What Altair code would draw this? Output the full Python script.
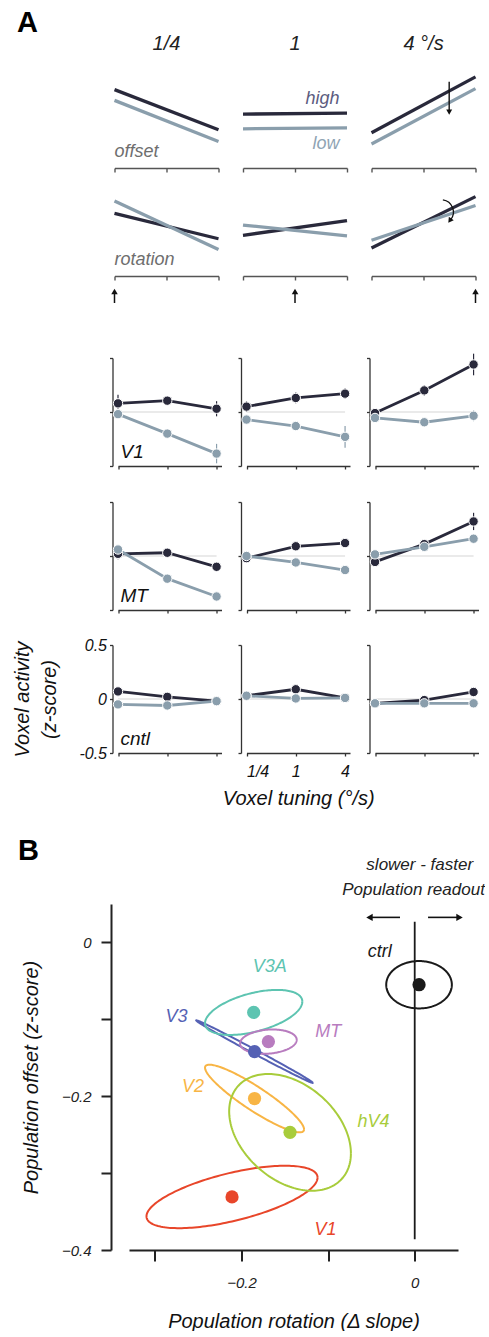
import altair as alt
import numpy as np
import pandas as pd

FONT = "Liberation Sans"
DARK = "#29293b"
LIGHT = "#8a9eac"
AXC = "#333333"
SAXC = "#555555"

# ---------------- data ----------------
speed_titles = ["1/4", "1", "4 °/s"]
tuning_labels = ["1/4", "1", "4"]
tuning_pos = [0, 1, 2]
levels = ["high", "low"]

# schematic model responses: [left end, right end] per column
offset_high = [[0.80, 0.39], [0.55, 0.56], [0.36, 0.93]]
offset_low = [[0.69, 0.27], [0.40, 0.41], [0.245, 0.81]]
rotation_high = [[0.64, 0.38], [0.415, 0.565], [0.285, 0.81]]
rotation_low = [[0.765, 0.27], [0.52, 0.41], [0.365, 0.72]]
stim_pos = [0, 1, 2]

# measured voxel activity (z-score)
areas = ["V1", "MT", "cntl"]
act_high = {
    "V1": [[0.08, 0.105, 0.03], [0.05, 0.13, 0.17], [-0.01, 0.20, 0.44]],
    "MT": [[0.02, 0.03, -0.10], [-0.02, 0.09, 0.12], [-0.055, 0.11, 0.32]],
    "cntl": [[0.07, 0.02, -0.02], [0.03, 0.09, 0.01], [-0.04, -0.01, 0.065]],
}
act_low = {
    "V1": [[-0.02, -0.20, -0.385], [-0.07, -0.13, -0.23], [-0.055, -0.095, -0.035]],
    "MT": [[0.06, -0.21, -0.375], [0.0, -0.06, -0.13], [0.015, 0.085, 0.16]],
    "cntl": [[-0.05, -0.06, -0.02], [0.03, 0.005, 0.01], [-0.04, -0.04, -0.04]],
}
err_high = {
    "V1": [[0.08, 0.03, 0.07], [0.05, 0.05, 0.05], [0.03, 0.05, 0.10]],
    "MT": [[0.05, 0.03, 0.03], [0.03, 0.03, 0.03], [0.03, 0.03, 0.08]],
    "cntl": [[0.02, 0.02, 0.02], [0.02, 0.02, 0.02], [0.02, 0.02, 0.02]],
}
err_low = {
    "V1": [[0.03, 0.03, 0.09], [0.03, 0.03, 0.10], [0.03, 0.03, 0.05]],
    "MT": [[0.04, 0.03, 0.03], [0.03, 0.03, 0.03], [0.03, 0.03, 0.03]],
    "cntl": [[0.02, 0.02, 0.02], [0.02, 0.02, 0.02], [0.02, 0.02, 0.02]],
}
act_ticks = [-0.5, 0, 0.5]
act_tick_labels = ["-0.5", "0", "0.5"]

# population readout (panel B)
pop_regions = ["V1", "V2", "V3", "V3A", "hV4", "MT", "ctrl"]
pop_rotation = [-0.211, -0.185, -0.185, -0.186, -0.144, -0.169, 0.005]
pop_offset = [-0.331, -0.203, -0.142, -0.091, -0.247, -0.129, -0.055]
sd_rotation = [0.0988, 0.0572, 0.0674, 0.0562, 0.0703, 0.0327, 0.0379]
sd_offset = [0.0406, 0.0440, 0.0407, 0.0293, 0.0759, 0.0158, 0.0308]
corr = [0.62, -0.91, -0.997, 0.48, -0.36, 0.15, 0.0]
pop_colors = ["#e8462a", "#f8b545", "#5561b4", "#5dc4b1", "#a8cc3b", "#b87cbf", "#1a1a1a"]
label_rot = [-0.103, -0.256, -0.275, -0.1675, -0.0476, -0.100, -0.0404]
label_off = [-0.374, -0.188, -0.0974, -0.0317, -0.2336, -0.116, -0.0121]
B_xticks = [-0.3, -0.2, -0.1, 0]
B_xlabels = ["", "\u22120.2", "", "0"]
B_yticks = [0, -0.1, -0.2, -0.3, -0.4]
B_ylabels = ["0", "", "\u22120.2", "", "\u22120.4"]
ctrl_line = [0.027, -0.386]
readout_from = [-0.017, 0.0154]
readout_to = [-0.0563, 0.0558]
readout_y = 0.0326

# ---------------- layout ----------------
HSP = 21.5          # gap between grid columns
W0 = 90             # left margin column
WS = 104            # schematic panel width
WD = 107            # data panel cell width (plot starts 3.5 px in)
SP = pd.DataFrame({"v": [0]})

level_color = alt.Color("level:N", scale=alt.Scale(domain=levels, range=[DARK, LIGHT]), legend=None)


def spacer(w, h):
    return alt.Chart(SP).mark_point(opacity=0).encode(
        x=alt.value(0), y=alt.value(0)).properties(width=w, height=h)


def spacer_text(txt, w, h, x, y, size):
    t = alt.Chart(pd.DataFrame({"t": [txt]})).mark_text(
        fontSize=size, fontWeight="bold", align="left", baseline="alphabetic", color="black"
    ).encode(x=alt.value(x), y=alt.value(y), text="t:N")
    return t.properties(width=w, height=h)


def title_cell(c):
    t = alt.Chart(pd.DataFrame({"t": [speed_titles[c]]})).mark_text(
        fontSize=20, fontStyle="italic", align="center", baseline="alphabetic", color="#222"
    ).encode(x=alt.value(WS / 2), y=alt.value(50), text="t:N")
    return t.properties(width=WS, height=70)


schem_axis = alt.Axis(values=tuning_pos, labels=False, ticks=True, tickSize=4, grid=False,
                      domainColor=SAXC, tickColor=SAXC, domainWidth=1.4, tickWidth=1.4, title=None)


def schem_panel(kind, c):
    hi = offset_high if kind == "offset" else rotation_high
    lo = offset_low if kind == "offset" else rotation_low
    rows = []
    for lev, src in (("high", hi), ("low", lo)):
        for j, xv in enumerate([0, 2]):
            rows.append({"level": lev, "x": xv, "y": src[c][j]})
    df = pd.DataFrame(rows)
    xs = alt.Scale(domain=[0, 2], nice=False, zero=False)
    ys = alt.Scale(domain=[0, 1], nice=False, zero=False)

    def X(f):
        return alt.X(f, type="quantitative", scale=xs, axis=schem_axis)

    def Y(f):
        return alt.Y(f, type="quantitative", scale=ys, axis=None)

    layers = [alt.Chart(df).mark_line(strokeWidth=3.3).encode(x=X("x"), y=Y("y"), color=level_color)]
    if c == 0:
        layers.append(alt.Chart(pd.DataFrame({"t": [kind]})).mark_text(
            fontSize=18, fontStyle="italic", align="left", baseline="alphabetic", color="#6e6e6e"
        ).encode(x=alt.value(0), y=alt.value(87), text="t:N"))
    if kind == "offset" and c == 1:
        layers.append(alt.Chart(pd.DataFrame({"t": ["high"]})).mark_text(
            fontSize=18, fontStyle="italic", align="right", baseline="alphabetic", color="#5c5c80"
        ).encode(x=alt.value(96.5), y=alt.value(33.5), text="t:N"))
        layers.append(alt.Chart(pd.DataFrame({"t": ["low"]})).mark_text(
            fontSize=18, fontStyle="italic", align="right", baseline="alphabetic", color="#8fa4b4"
        ).encode(x=alt.value(96.5), y=alt.value(78.5), text="t:N"))
    if kind == "offset" and c == 2:
        adf = pd.DataFrame({"x": [1.494], "y1": [0.881], "y2": [0.57]})
        layers.append(alt.Chart(adf).mark_rule(color="#111", strokeWidth=1.4).encode(
            x=X("x"), y=Y("y1"), y2="y2:Q"))
        layers.append(alt.Chart(adf).mark_point(shape="triangle-down", filled=True, size=36,
                                                color="#111", opacity=1).encode(x=X("x"), y=Y("y2")))
    if kind == "rotation" and c == 2:
        cdf = pd.DataFrame({"x": [1.337], "y": [0.653]})
        layers.append(alt.Chart(cdf).mark_arc(radius=13, radius2=11.7, theta=0.15, theta2=2.25,
                                              color="#111").encode(x=X("x"), y=Y("y")))
        hdf = pd.DataFrame({"x": [1.506], "y": [0.565]})
        layers.append(alt.Chart(hdf).mark_point(shape="triangle-down", filled=True, size=36, angle=35,
                                                color="#111", opacity=1).encode(x=X("x"), y=Y("y")))
    if kind == "rotation":
        sdf = pd.DataFrame({"x": [stim_pos[c]]})
        layers.append(alt.Chart(sdf).mark_rule(color="#111", strokeWidth=1.5).encode(
            x=X("x"), y=alt.value(114), y2=alt.value(125)))
        layers.append(alt.Chart(sdf).mark_point(shape="triangle-up", filled=True, size=42,
                                                color="#111", opacity=1).encode(x=X("x"), y=alt.value(113.5)))
    return alt.layer(*layers).properties(width=WS, height=98)


def data_panel(area, c, h):
    rows = []
    for lev, vals, errs in (("high", act_high, err_high), ("low", act_low, err_low)):
        for i in range(3):
            v = vals[area][c][i]
            e = errs[area][c][i]
            rows.append({"level": lev, "x": tuning_pos[i], "y": v, "lo": v - e, "hi": v + e})
    df = pd.DataFrame(rows)
    ylab = area == "cntl" and c == 0
    xlab = area == "cntl" and c == 1
    yax = dict(values=act_ticks, tickSize=3, domainColor=AXC, tickColor=AXC, domainWidth=1.3,
               tickWidth=1.3, offset=2, grid=False, labels=ylab, title=None)
    if ylab:
        yax.update(labelExpr=f"{act_tick_labels}[indexof({act_ticks}, datum.value)]",
                   labelFontSize=16, labelFontStyle="italic", labelPadding=3, labelColor="#111",
                   title=["Voxel activity", "(z-score)"], titleFontSize=20, titleFontStyle="italic",
                   titleFontWeight="normal", titleLineHeight=27, titlePadding=19, titleColor="#111")
    xax = dict(values=tuning_pos, tickSize=3, domainColor=AXC, tickColor=AXC, domainWidth=1.3,
               tickWidth=1.3, grid=False, labels=xlab, title=None)
    if xlab:
        xax.update(labelExpr=f"{tuning_labels}[datum.value]", labelFontSize=16,
                   labelFontStyle="italic", labelPadding=7, labelColor="#111",
                   title="Voxel tuning (°/s)", titleFontSize=20, titleFontStyle="italic",
                   titleFontWeight="normal", titlePadding=9, titleColor="#111")
    xs = alt.Scale(domain=[0, 2.1], range=[3.5, WD], nice=False, zero=False)
    ys = alt.Scale(domain=[-0.5, 0.5], nice=False, zero=False)

    def X(f):
        return alt.X(f, type="quantitative", scale=xs, axis=alt.Axis(**xax))

    def Y(f):
        return alt.Y(f, type="quantitative", scale=ys, axis=alt.Axis(**yax))

    zdf = pd.DataFrame({"x0": [0], "x1": [2], "y": [0]})
    layers = [
        alt.Chart(zdf).mark_rule(color="#e3e3e3", strokeWidth=1.5).encode(x=X("x0"), x2="x1:Q", y=Y("y")),
        alt.Chart(df).mark_rule(strokeWidth=1.2).encode(x=X("x"), y=Y("lo"), y2="hi:Q", color=level_color),
        alt.Chart(df).mark_line(strokeWidth=2.8).encode(x=X("x"), y=Y("y"), color=level_color),
        alt.Chart(df).mark_circle(size=88, opacity=1, stroke="white", strokeWidth=1).encode(
            x=X("x"), y=Y("y"), color=level_color),
    ]
    if c == 0:
        layers.append(alt.Chart(pd.DataFrame({"t": [area]})).mark_text(
            fontSize=19, fontStyle="italic", align="left", baseline="alphabetic", color="#111"
        ).encode(x=alt.value(6), y=alt.value(99.5), text="t:N"))
    return alt.layer(*layers).properties(width=WD, height=h)


def part_b():
    xs = alt.Scale(domain=[-0.33, 0.05], range=[14.5, 343.5], nice=False, zero=False)
    ys = alt.Scale(domain=[-0.4, 0.05], nice=False, zero=False)
    xax = alt.Axis(values=B_xticks, labelExpr=f"{B_xlabels}[indexof({B_xticks}, datum.value)]",
                   tickSize=11, tickWidth=2, domainWidth=2, domainColor="#222", tickColor="#222",
                   labelColor="#222", labelFontSize=15, labelFontStyle="italic", labelPadding=14,
                   title="Population rotation (\u0394 slope)", titleFontSize=20, titleFontStyle="italic",
                   titleFontWeight="normal", titlePadding=21, titleColor="#111", grid=False)
    yax = alt.Axis(values=B_yticks, labelExpr=f"{B_ylabels}[indexof({B_yticks}, datum.value)]",
                   tickSize=10, tickWidth=2, domainWidth=2, domainColor="#222", tickColor="#222",
                   labelColor="#222", labelFontSize=15, labelFontStyle="italic", labelPadding=10,
                   offset=3.5, title="Population offset (z-score)", titleFontSize=20,
                   titleFontStyle="italic", titleFontWeight="normal", titlePadding=20,
                   titleColor="#111", grid=False)

    def X(f):
        return alt.X(f, type="quantitative", scale=xs, axis=xax)

    def Y(f):
        return alt.Y(f, type="quantitative", scale=ys, axis=yax)

    col = alt.Color("region:N", scale=alt.Scale(domain=pop_regions, range=pop_colors), legend=None)
    pop = pd.DataFrame({"region": pop_regions, "rot": pop_rotation, "off": pop_offset,
                        "lx": label_rot, "ly": label_off})
    t = np.linspace(0, 2 * np.pi, 181)
    ell = []
    for i, r in enumerate(pop_regions):
        ex = pop_rotation[i] + sd_rotation[i] * np.cos(t)
        ey = pop_offset[i] + sd_offset[i] * (corr[i] * np.cos(t) + np.sqrt(1 - corr[i] ** 2) * np.sin(t))
        for k in range(len(t)):
            ell.append({"region": r, "k": k, "ex": ex[k], "ey": ey[k]})
    ell = pd.DataFrame(ell)
    cl = pd.DataFrame({"x": [0], "y1": [ctrl_line[0]], "y2": [ctrl_line[1]]})
    px = 0.38 / 329
    ar = pd.DataFrame({"x1": readout_from, "x2": readout_to, "y": [readout_y] * 2,
                       "hx": [readout_to[0] + 3.5 * px, readout_to[1] - 3.5 * px],
                       "shape": ["triangle-left", "triangle-right"]})
    hdr1 = pd.DataFrame({"t": ["slower - faster"], "x": [0.0058]})
    hdr2 = pd.DataFrame({"t": ["Population readout"], "x": [-0.0014]})
    layers = [
        alt.Chart(cl).mark_rule(color="#1a1a1a", strokeWidth=1.8).encode(x=X("x"), y=Y("y1"), y2="y2:Q"),
        alt.Chart(ell).mark_line(strokeWidth=2).encode(x=X("ex"), y=Y("ey"), color=col,
                                                        detail="region:N", order="k:Q"),
        alt.Chart(pop).mark_circle(size=175, opacity=1).encode(x=X("rot"), y=Y("off"), color=col),
        alt.Chart(pop).mark_text(fontSize=18, fontStyle="italic").encode(
            x=X("lx"), y=Y("ly"), text="region:N", color=col),
        alt.Chart(ar).mark_rule(color="#111", strokeWidth=1.6).encode(x=X("x1"), x2="hx:Q", y=Y("y")),
        alt.Chart(ar).mark_point(filled=True, size=55, color="#111", opacity=1).encode(
            x=X("hx"), y=Y("y"), shape=alt.Shape("shape:N", scale=None)),
        alt.Chart(hdr1).mark_text(fontSize=17, fontStyle="italic", baseline="alphabetic", color="#222").encode(
            x=X("x"), y=alt.value(-34), text="t:N"),
        alt.Chart(hdr2).mark_text(fontSize=17, fontStyle="italic", baseline="alphabetic", color="#222").encode(
            x=X("x"), y=alt.value(-9), text="t:N"),
    ]
    return alt.layer(*layers).properties(width=WD, height=346)


def gap_row(h, first=None):
    row = [first if first is not None else spacer(W0, h)]
    row += [spacer(WS, h) for _ in range(3)]
    return row


cells = []
cells.append(spacer_text("A", W0, 70, 14, 32, 29))
cells += [title_cell(c) for c in range(3)]
cells.append(spacer(W0, 98))
cells += [schem_panel("offset", c) for c in range(3)]
cells += gap_row(10)
cells.append(spacer(W0, 98))
cells += [schem_panel("rotation", c) for c in range(3)]
cells += gap_row(82)
gaps = [36, 35]
for k, a in enumerate(areas):
    cells.append(spacer(W0, 108))
    cells += [data_panel(a, c, 108) for c in range(3)]
    if k < 2:
        cells += gap_row(gaps[k])
cells += gap_row(151, spacer_text("B", W0, 151, 15, 107, 29))
cells.append(spacer(W0, 346))
cells.append(part_b())

chart = alt.concat(*cells, columns=4).properties(
    spacing=alt.RowColnumber(row=0, column=HSP),
    bounds="flush",
    align="each",
    padding=0,
).resolve_scale(color="independent").configure(font=FONT).configure_view(stroke=None)

chart.save("out.html", embed_options={"renderer": "svg", "actions": False})
